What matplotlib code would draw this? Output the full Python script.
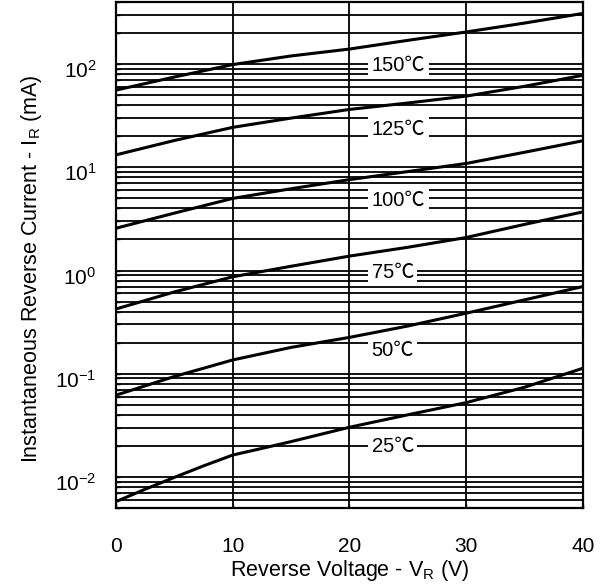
import numpy as np
import matplotlib
matplotlib.use('Agg')
import matplotlib.pyplot as plt
from matplotlib.ticker import LogLocator, NullFormatter, FixedLocator
from matplotlib.transforms import ScaledTranslation


# data ##################################################################
v_r = [0, 5, 10, 15, 20, 25, 30, 35, 40]

i_150 = [56, 75, 99, 120, 140, 170, 205, 250, 310]
i_125 = [13.2, 18.2, 24.4, 30, 36.4, 42, 49, 61, 78]
i_100 = [2.57, 3.6, 5.0, 6.2, 7.6, 9.1, 10.9, 14, 18.1]
i_75 = [0.424, 0.62, 0.87, 1.1, 1.38, 1.68, 2.09, 2.8, 3.7]
i_50 = [0.062, 0.094, 0.136, 0.18, 0.225, 0.29, 0.386, 0.52, 0.70]

# 25 C curve bends more at low voltage, read with a few extra points
v_r_25 = [0, 2.5, 5, 7.5, 10, 12.5, 15, 20, 25, 30, 35, 40]
i_25 = [0.00577, 0.0076, 0.0099, 0.0128, 0.0163, 0.0189, 0.022, 0.0303, 0.04, 0.0525, 0.074, 0.113]

curves = [(v_r, i_150), (v_r, i_125), (v_r, i_100), (v_r, i_75), (v_r, i_50), (v_r_25, i_25)]
labels = ['150℃', '125℃', '100℃', '75℃', '50℃', '25℃']
label_y = [96, 23, 4.8, 0.95, 0.167, 0.0197]


# MAIN ******************************************************************
plt.rcParams['font.family'] = ['Liberation Sans', 'Noto Sans CJK SC', 'DejaVu Sans']
plt.rcParams['mathtext.fontset'] = 'custom'
plt.rcParams['mathtext.rm'] = 'Liberation Sans'
plt.rcParams['font.size'] = 15

fig = plt.figure(figsize=(6.05, 5.86), dpi=100)
ax = fig.add_axes([0.1917, 0.1331, 0.7719, 0.8635])

for vx, iy in curves:
    ax.plot(vx, iy, color='black', lw=2.2, zorder=3)

ax.set_yscale('log')
ax.set_xlim(0, 40)
ax.set_ylim(0.005, 400)

ax.xaxis.set_major_locator(FixedLocator([0, 10, 20, 30, 40]))
ax.yaxis.set_major_locator(LogLocator(base=10, numticks=10))
ax.yaxis.set_minor_locator(LogLocator(base=10, subs=np.arange(2, 10), numticks=20))
ax.yaxis.set_minor_formatter(NullFormatter())

ax.grid(True, which='major', axis='both', color='black', lw=1.3)
ax.grid(True, which='minor', axis='y', color='black', lw=1.3)

ax.tick_params(axis='both', which='both', direction='in', length=3, width=1)
ax.tick_params(axis='x', pad=21)
ax.tick_params(axis='y', pad=14)
for s in ax.spines.values():
    s.set_linewidth(1.6)

# y tick labels sit a little below their grid lines in the reference
shift = ScaledTranslation(0, -5 / 100, fig.dpi_scale_trans)
for t in ax.get_yticklabels():
    t.set_transform(t.get_transform() + shift)

for lab, y in zip(labels, label_y):
    ax.text(21.9, y, lab, ha='left', va='center', zorder=4, fontsize=14.5,
            bbox=dict(facecolor='white', edgecolor='none', pad=2.5))

ax.set_xlabel(r'Reverse Voltage - V$\mathregular{_R}$ (V)', fontsize=15.5, labelpad=1)
ax.set_ylabel(r'Instantaneous Reverse Current - I$\mathregular{_R}$ (mA)', fontsize=15.5)
ax.yaxis.set_label_coords(-0.154, 0.472)

plt.savefig('out.png', dpi=100)
